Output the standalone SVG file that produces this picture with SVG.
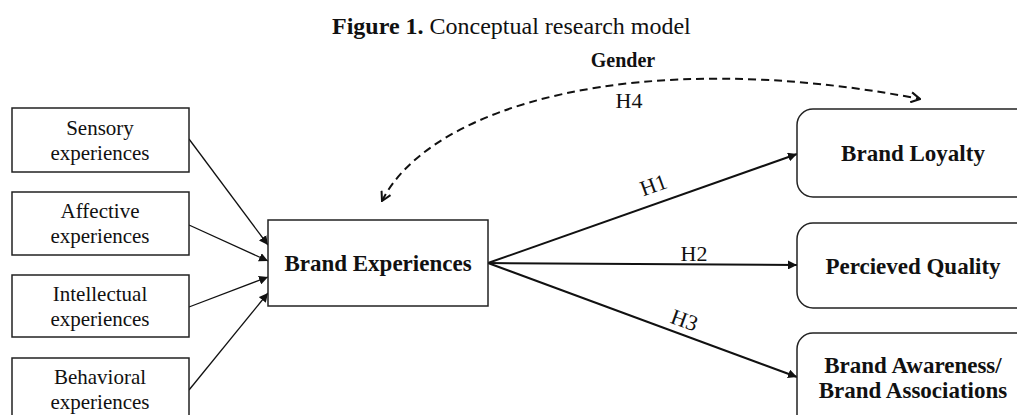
<svg xmlns="http://www.w3.org/2000/svg" width="1017" height="415" viewBox="0 0 1017 415">
<style>
.bg{fill:#fff}
.box{fill:#fff;stroke:#222;stroke-width:1.5}
.rbox{fill:#fff;stroke:#222;stroke-width:1.5}
.t{font-family:"Liberation Serif","Times New Roman",serif;fill:#111;text-anchor:middle}
.s{font-size:21px}
.b{font-size:23px;font-weight:bold}
.h{font-size:22px}
.in{stroke:#111;stroke-width:1.3;fill:none}
.out{stroke:#111;stroke-width:2;fill:none}
.dash{stroke:#111;stroke-width:2;fill:none;stroke-dasharray:8,5}
</style>
<defs>
<marker id="tri" viewBox="0 0 10 10" refX="10" refY="5" markerWidth="9" markerHeight="9" markerUnits="userSpaceOnUse" orient="auto">
<path d="M0,0 L10,5 L0,10 z" fill="#111"/>
</marker>
<marker id="vee" viewBox="0 0 12 12" refX="11" refY="6" markerWidth="12" markerHeight="12" markerUnits="userSpaceOnUse" orient="auto-start-reverse">
<path d="M2,1 L11,6 L2,11" fill="none" stroke="#111" stroke-width="2"/>
</marker>
</defs>
<rect class="bg" x="0" y="0" width="1017" height="415"/>
<text x="332" y="34" font-family="Liberation Serif,serif" font-size="24" fill="#111"><tspan font-weight="bold">Figure 1.</tspan> Conceptual research model</text>
<text class="t" x="623" y="67" font-size="20" font-weight="bold">Gender</text>
<g id="connectors">
<path class="dash" d="M382,201 C430,105 640,45 920,99" marker-start="url(#vee)" marker-end="url(#vee)"/>
<line class="in" x1="189" y1="139" x2="268" y2="245" marker-end="url(#tri)"/>
<line class="in" x1="189" y1="225" x2="268" y2="261" marker-end="url(#tri)"/>
<line class="in" x1="189" y1="307" x2="268" y2="277" marker-end="url(#tri)"/>
<line class="in" x1="189" y1="390" x2="268" y2="293" marker-end="url(#tri)"/>
<line class="out" x1="488" y1="263" x2="797" y2="154" marker-end="url(#tri)"/>
<line class="out" x1="488" y1="263" x2="797" y2="265" marker-end="url(#tri)"/>
<line class="out" x1="488" y1="263" x2="797" y2="377" marker-end="url(#tri)"/>
<text class="t h" x="629" y="108">H4</text>
<text class="t h" transform="translate(656,192) rotate(-20)">H1</text>
<text class="t h" x="694" y="261">H2</text>
<text class="t h" transform="translate(682,327) rotate(20)">H3</text>
</g>
<g id="sensory"><rect class="box" x="12" y="108" width="177" height="64"/><text class="t s" x="100" y="135">Sensory</text><text class="t s" x="100" y="160">experiences</text></g>
<g id="affective"><rect class="box" x="12" y="192" width="177" height="63"/><text class="t s" x="100" y="218">Affective</text><text class="t s" x="100" y="243">experiences</text></g>
<g id="intellectual"><rect class="box" x="12" y="275" width="177" height="62"/><text class="t s" x="100" y="301">Intellectual</text><text class="t s" x="100" y="326">experiences</text></g>
<g id="behavioral"><rect class="box" x="12" y="358" width="177" height="64"/><text class="t s" x="100" y="384">Behavioral</text><text class="t s" x="100" y="409">experiences</text></g>
<g id="brand-experiences"><rect class="box" x="268" y="220" width="220" height="86"/><text class="t b" x="378" y="271">Brand Experiences</text></g>
<g id="brand-loyalty"><rect class="rbox" x="797" y="109" width="240" height="88" rx="16"/><text class="t b" x="913" y="161">Brand Loyalty</text></g>
<g id="perceived-quality"><rect class="rbox" x="797" y="223" width="240" height="85" rx="16"/><text class="t b" x="913" y="274">Percieved Quality</text></g>
<g id="brand-awareness"><rect class="rbox" x="797" y="333" width="240" height="100" rx="16"/><text class="t b" x="913" y="373">Brand Awareness/</text><text class="t b" x="913" y="398">Brand Associations</text></g>
</svg>
